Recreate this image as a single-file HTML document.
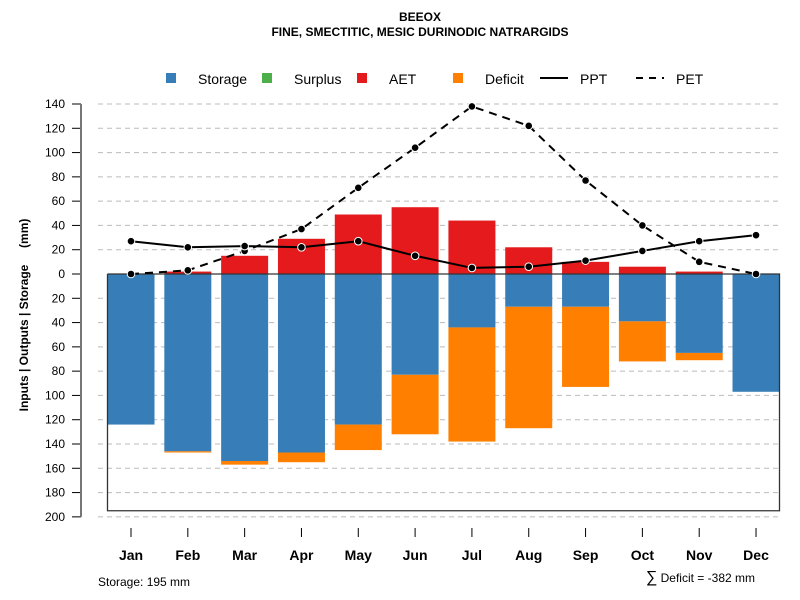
<!DOCTYPE html>
<html><head><meta charset="utf-8"><style>
body{margin:0;background:#fff;}
svg{display:block;font-family:"Liberation Sans",sans-serif;}
</style></head><body>
<svg id="chart" width="800" height="600" viewBox="0 0 800 600">
<text x="420" y="21" text-anchor="middle" font-size="12" font-weight="bold">BEEOX</text>
<text x="420" y="36" text-anchor="middle" font-size="12" font-weight="bold">FINE, SMECTITIC, MESIC DURINODIC NATRARGIDS</text>
<g font-size="14">
<g><rect x="166" y="73" width="10" height="10" fill="#377eb8"/><text x="198" y="84">Storage</text></g>
<g><rect x="262" y="73" width="10" height="10" fill="#4daf4a"/><text x="294" y="84">Surplus</text></g>
<g><rect x="357" y="73" width="10" height="10" fill="#e41a1c"/><text x="389" y="84">AET</text></g>
<g><rect x="453" y="73" width="10" height="10" fill="#ff7f00"/><text x="485" y="84">Deficit</text></g>
<g><line x1="540" y1="78" x2="568" y2="78" stroke="#000" stroke-width="2"/><text x="580" y="84">PPT</text></g>
<g><line x1="636" y1="78" x2="664" y2="78" stroke="#000" stroke-width="2" stroke-dasharray="7,6"/><text x="676" y="84">PET</text></g>
</g>
<text transform="translate(28,315) rotate(-90)" text-anchor="middle" font-size="12" font-weight="bold">Inputs | Outputs | Storage&#160;&#160;&#160;&#160;&#160;(mm)</text>
<text x="98" y="586" font-size="12">Storage: 195 mm</text>
<text x="755" y="582" text-anchor="end" font-size="12"><tspan font-size="16">∑</tspan> Deficit = -382 mm</text>
<g id="grid"></g><g id="bars"></g><g id="axes"></g><g id="lines"></g>
</svg>
<script>
const months=["Jan","Feb","Mar","Apr","May","Jun","Jul","Aug","Sep","Oct","Nov","Dec"];
const storage=[124,146,154,147,124,83,44,27,27,39,65,97];
const deficit=[0,1,3,8,21,49,94,100,66,33,6,0];
const aet=[0,2,15,29,49,55,44,22,10,6,2,0];
const ppt=[27,22,23,22,27,15,5,6,11,19,27,32];
const pet=[0,3,19,37,71,104,138,122,77,40,10,0];
const yTicks=[140,120,100,80,60,40,20,0,20,40,60,80,100,120,140,160,180,200];
const yTickVals=[140,120,100,80,60,40,20,0,-20,-40,-60,-80,-100,-120,-140,-160,-180,-200];
const storageCap=195;
const NS="http://www.w3.org/2000/svg";
const y=v=>274-v*(170/140);
const x=i=>131+i*56.82;
const bw=47;
function mk(tag,attrs,parent){const e=document.createElementNS(NS,tag);for(const k in attrs)e.setAttribute(k,attrs[k]);document.getElementById(parent).appendChild(e);return e;}
yTickVals.forEach((v,i)=>{
 if(v!==0){const g=mk('line',{x1:98,x2:779,y1:y(v),y2:y(v),stroke:'#bbb','stroke-dasharray':'5,4'},'grid');
 
 }
 const t=mk('line',{x1:72,x2:81,y1:y(v),y2:y(v),stroke:'#000'},'axes');
 
 
 const l=mk('text',{x:65,y:y(v)+4,'text-anchor':'end','font-size':12},'axes');l.textContent=yTicks[i];
 
 
});
const ax=mk('line',{x1:81,x2:81,y1:y(140),y2:y(-200),stroke:'#777','stroke-width':2},'axes');


months.forEach((m,i)=>{
 const cx=x(i);
 const s=mk('rect',{x:cx-bw/2,y:y(0),width:bw,height:y(-storage[i])-y(0),fill:'#377eb8'},'bars');
 
 
 if(deficit[i]>0){const d=mk('rect',{x:cx-bw/2,y:y(-storage[i]),width:bw,height:y(-storage[i]-deficit[i])-y(-storage[i]),fill:'#ff7f00'},'bars');
 
 }
 if(aet[i]>0){const a=mk('rect',{x:cx-bw/2,y:y(aet[i]),width:bw,height:y(0)-y(aet[i]),fill:'#e41a1c'},'bars');
 
 }
 const t=mk('line',{x1:cx,x2:cx,y1:528,y2:537,stroke:'#000'},'axes');
 
 
 const l=mk('text',{x:cx,y:560,'text-anchor':'middle','font-size':14,'font-weight':'bold'},'axes');l.textContent=m;
 
 
});
const box=mk('path',{d:`M107.5,${y(0)} V${y(-storageCap)} H779.5 V${y(0)} H107.5`,fill:'none',stroke:'#333','stroke-width':1.3},'axes');


function series(arr,name,dash){
 const p=mk('polyline',{points:arr.map((v,i)=>x(i)+','+y(v)).join(' '),fill:'none',stroke:'#000','stroke-width':2,'stroke-dasharray':dash},'lines');
 
 
 arr.forEach((v,i)=>{const c=mk('circle',{cx:x(i),cy:y(v),r:3.8,fill:'#000',stroke:'#fff','stroke-width':1},'lines');
 
 });
}
series(pet,'pet','8,6');
series(ppt,'ppt','none');
</script>
</body></html>
